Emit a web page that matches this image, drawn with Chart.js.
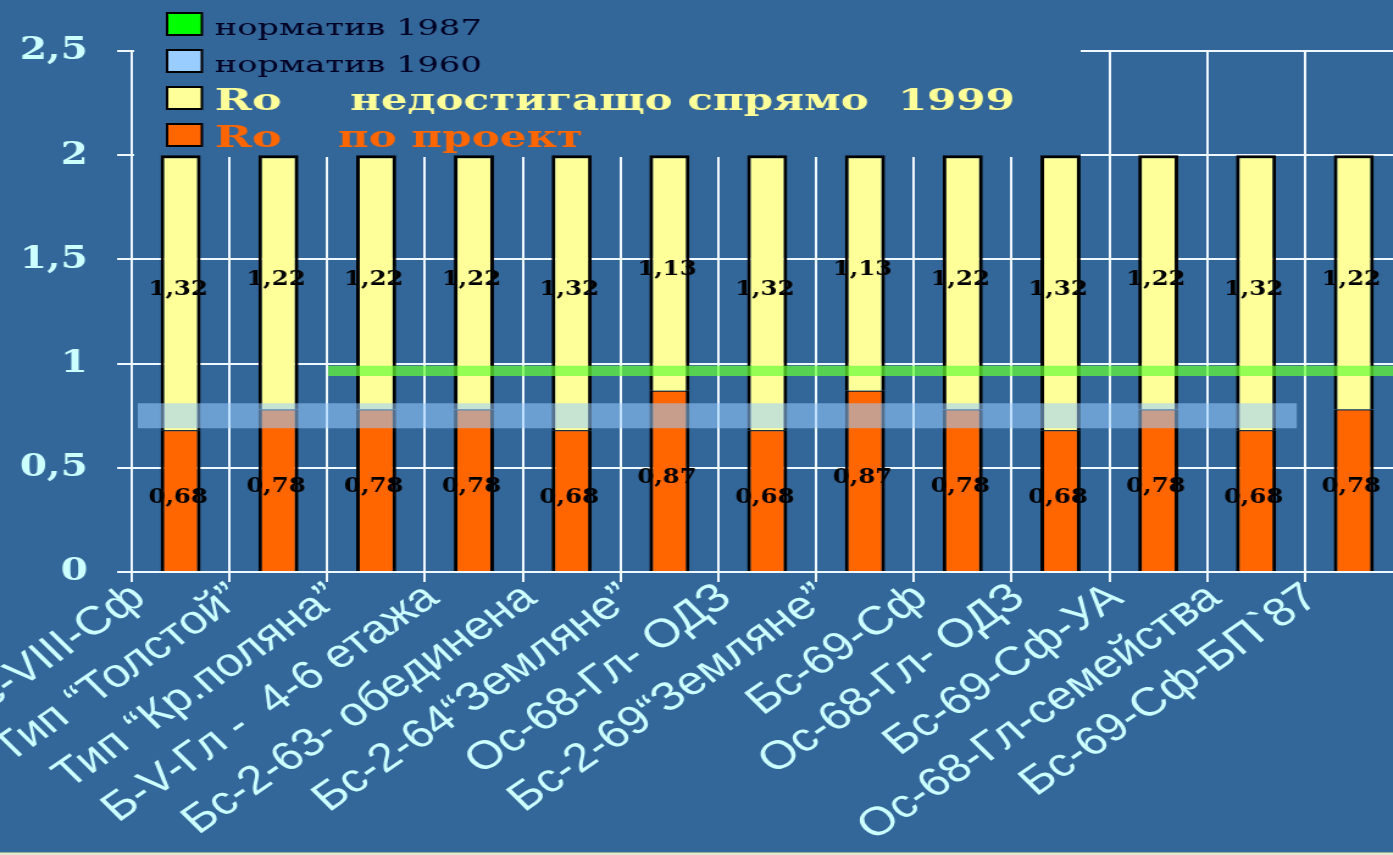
<!DOCTYPE html>
<html>
<head>
<meta charset="utf-8">
<script src="https://cdn.jsdelivr.net/npm/chart.js@4.4.1/dist/chart.umd.min.js"></script>
<style>
    html, body { margin: 0; padding: 0; background: #336699; overflow: hidden; }
    /* the slide was squeezed into a wider frame, so the whole chart is stretched sideways */
    #wrap { position: absolute; left: 0; top: 0; transform: scaleX(1.2197); transform-origin: 0 0; }
    #strip { position: absolute; left: 0; top: 852px; width: 1393px; height: 2px; background: #e0ebc9; border-top: 1px solid #93a9a3; }
</style>
</head>
<body>
<div id="wrap"><canvas id="chart" width="1156" height="852"></canvas></div>
<div id="strip"></div>
<script>
const categories = ['Бс-VIII-Сф', 'Тип “Толстой”', 'Тип “Кр.поляна”', 'Б-V-Гл -  4-6 етажа', 'Бс-2-63- обединена',
    'Бс-2-64“Земляне”', 'Ос-68-Гл- ОДЗ', 'Бс-2-69“Земляне”', 'Бс-69-Сф', 'Ос-68-Гл- ОДЗ',
    'Бс-69-Сф-УА', 'Ос-68-Гл-семейства', 'Бс-69-Сф-БП`87'];

const roProject = [0.68, 0.78, 0.78, 0.78, 0.68, 0.87, 0.68, 0.87, 0.78, 0.68, 0.78, 0.68, 0.78];
const roShortfall = [1.32, 1.22, 1.22, 1.22, 1.32, 1.13, 1.32, 1.13, 1.22, 1.32, 1.22, 1.32, 1.22];

const yTickValues = [0, 0.5, 1, 1.5, 2, 2.5];

// norm bands: span along the categories (category units) and value range
const norm1987Span = [2.01, 13];
const norm1987Range = [0.94, 0.99];
const norm1960Span = [0.06, 11.92];
const norm1960Range = [0.69, 0.81];

const BG = '#336699';
const GRID = '#f0f8ff';
const fmt = v => String(v).replace('.', ',');

function fitText(ctx, str, x, y, w) {
    const m = ctx.measureText(str).width;
    ctx.save();
    ctx.translate(x, y);
    ctx.scale(w / m, 1);
    ctx.fillText(str, 0, 0);
    ctx.restore();
}

const overlay = {
    id: 'overlay',
    beforeDatasetsDraw(chart) {
        const ctx = chart.ctx;
        const ds = chart.data.datasets;
        ctx.save();
        // legend sits on top of the upper grid
        ctx.fillStyle = BG;
        ctx.fillRect(110, 0, 776, 157);

        const rows = [
            { d: ds[0], top: 13, base: 35, font: '23px "DejaVu Serif"', color: '#000022', parts: [[176, 219]] },
            { d: ds[2], top: 50, base: 72, font: '23px "DejaVu Serif"', color: '#000022', parts: [[176, 219]] },
            { d: ds[5], top: 87, base: 110, font: 'bold 30px "DejaVu Serif"', color: '#ffff99', parts: [[176, 55], [287, 545]] },
            { d: ds[4], top: 124, base: 147, font: 'bold 30px "DejaVu Serif"', color: '#ff6600', parts: [[176, 55], [277, 201]] }
        ];
        rows.forEach(r => {
            ctx.fillStyle = r.d.swatch;
            ctx.fillRect(137, r.top, 28.5, 22);
            ctx.strokeStyle = '#000';
            ctx.lineWidth = 2;
            ctx.strokeRect(137, r.top, 28.5, 22);
            ctx.font = r.font;
            ctx.fillStyle = r.color;
            ctx.textBaseline = 'alphabetic';
            const words = r.parts.length > 1 ? r.d.label.split(/\s{3,}/) : [r.d.label];
            r.parts.forEach(([x, w], i) => fitText(ctx, words[i], x, r.base, w));
        });
        ctx.restore();
    },
    afterDatasetsDraw(chart) {
        const ctx = chart.ctx;
        ctx.save();
        ctx.font = 'bold 20px "DejaVu Serif"';
        ctx.fillStyle = '#000';
        ctx.textAlign = 'center';
        ctx.textBaseline = 'middle';
        [4, 5].forEach(di => {
            const meta = chart.getDatasetMeta(di);
            const vals = chart.data.datasets[di].data;
            meta.data.forEach((bar, i) => {
                ctx.fillText(vals[i].toFixed(2).replace('.', ','), bar.x - 2, (bar.y + bar.base) / 2 - 3);
            });
        });
        ctx.restore();
    }
};

const bandLine = (span, y, fill, color) => ({
    type: 'line',
    data: span.map(x => ({ x, y })),
    xAxisID: 'xb',
    yAxisID: 'yb',
    borderWidth: 0,
    borderColor: 'transparent',
    pointRadius: 0,
    backgroundColor: color,
    fill: fill,
    order: 0
});

new Chart(document.getElementById('chart'), {
    type: 'bar',
    data: {
        labels: categories,
        datasets: [
            Object.assign(bandLine(norm1987Span, norm1987Range[1], '+1', 'rgba(102,255,51,0.7)'), { label: 'норматив 1987', swatch: '#00ff00' }),
            Object.assign(bandLine(norm1987Span, norm1987Range[0], false, 'transparent'), { label: '' }),
            Object.assign(bandLine(norm1960Span, norm1960Range[1], '+1', 'rgba(153,204,255,0.55)'), { label: 'норматив 1960', swatch: '#99ccff' }),
            Object.assign(bandLine(norm1960Span, norm1960Range[0], false, 'transparent'), { label: '' }),
            {
                label: 'Ro    по проект',
                data: roProject,
                swatch: '#ff6600',
                stack: 'ro',
                grouped: false,
                backgroundColor: '#ff6600',
                borderColor: '#000',
                borderWidth: { left: 3, right: 3, top: 1, bottom: 0 },
                borderSkipped: false,
                barPercentage: 0.41,
                categoryPercentage: 1.0,
                order: 5
            },
            {
                label: 'Ro    недостигащо спрямо  1999',
                data: roShortfall,
                swatch: '#ffff99',
                stack: 'ro',
                grouped: false,
                backgroundColor: '#ffff99',
                borderColor: '#000',
                borderWidth: { left: 3, right: 3, top: 3, bottom: 0 },
                borderSkipped: false,
                barPercentage: 0.41,
                categoryPercentage: 1.0,
                order: 5
            }
        ]
    },
    options: {
        responsive: false,
        devicePixelRatio: 1,
        animation: false,
        events: [],
        layout: { padding: { top: 51, right: 6, left: 0, bottom: 0 } },
        plugins: { legend: { display: false }, tooltip: { enabled: false } },
        scales: {
            x: {
                stacked: true,
                offset: true,
                grid: { offset: true, color: GRID, lineWidth: 2, tickLength: 10, tickColor: GRID, tickWidth: 2 },
                border: { display: true, color: GRID, width: 2 },
                ticks: {
                    autoSkip: false,
                    minRotation: 40,
                    maxRotation: 40,
                    padding: -8,
                    labelOffset: -34,
                    color: '#ccffff',
                    font: { family: '"Liberation Sans", Arial, sans-serif', size: 40 }
                },
                afterFit(s) { s.height = 280; s.paddingLeft = 0; s.paddingRight = 0; }
            },
            y: {
                stacked: true,
                min: 0,
                max: 2.5,
                grid: { color: GRID, lineWidth: 2, tickLength: 12, tickColor: GRID, tickWidth: 2 },
                border: { display: true, color: GRID, width: 2 },
                afterBuildTicks(s) { s.ticks = yTickValues.map(v => ({ value: v })); },
                ticks: {
                    padding: 24,
                    color: '#ccffff',
                    font: { family: '"DejaVu Serif", serif', weight: 'bold', size: 32 },
                    callback: v => fmt(v)
                },
                afterFit(s) { s.width = 108; }
            },
            xb: { type: 'linear', display: false, offset: false, min: 0, max: 13 },
            yb: { type: 'linear', display: false, offset: false, min: 0, max: 2.5 }
        }
    },
    plugins: [overlay]
});
</script>
</body>
</html>
